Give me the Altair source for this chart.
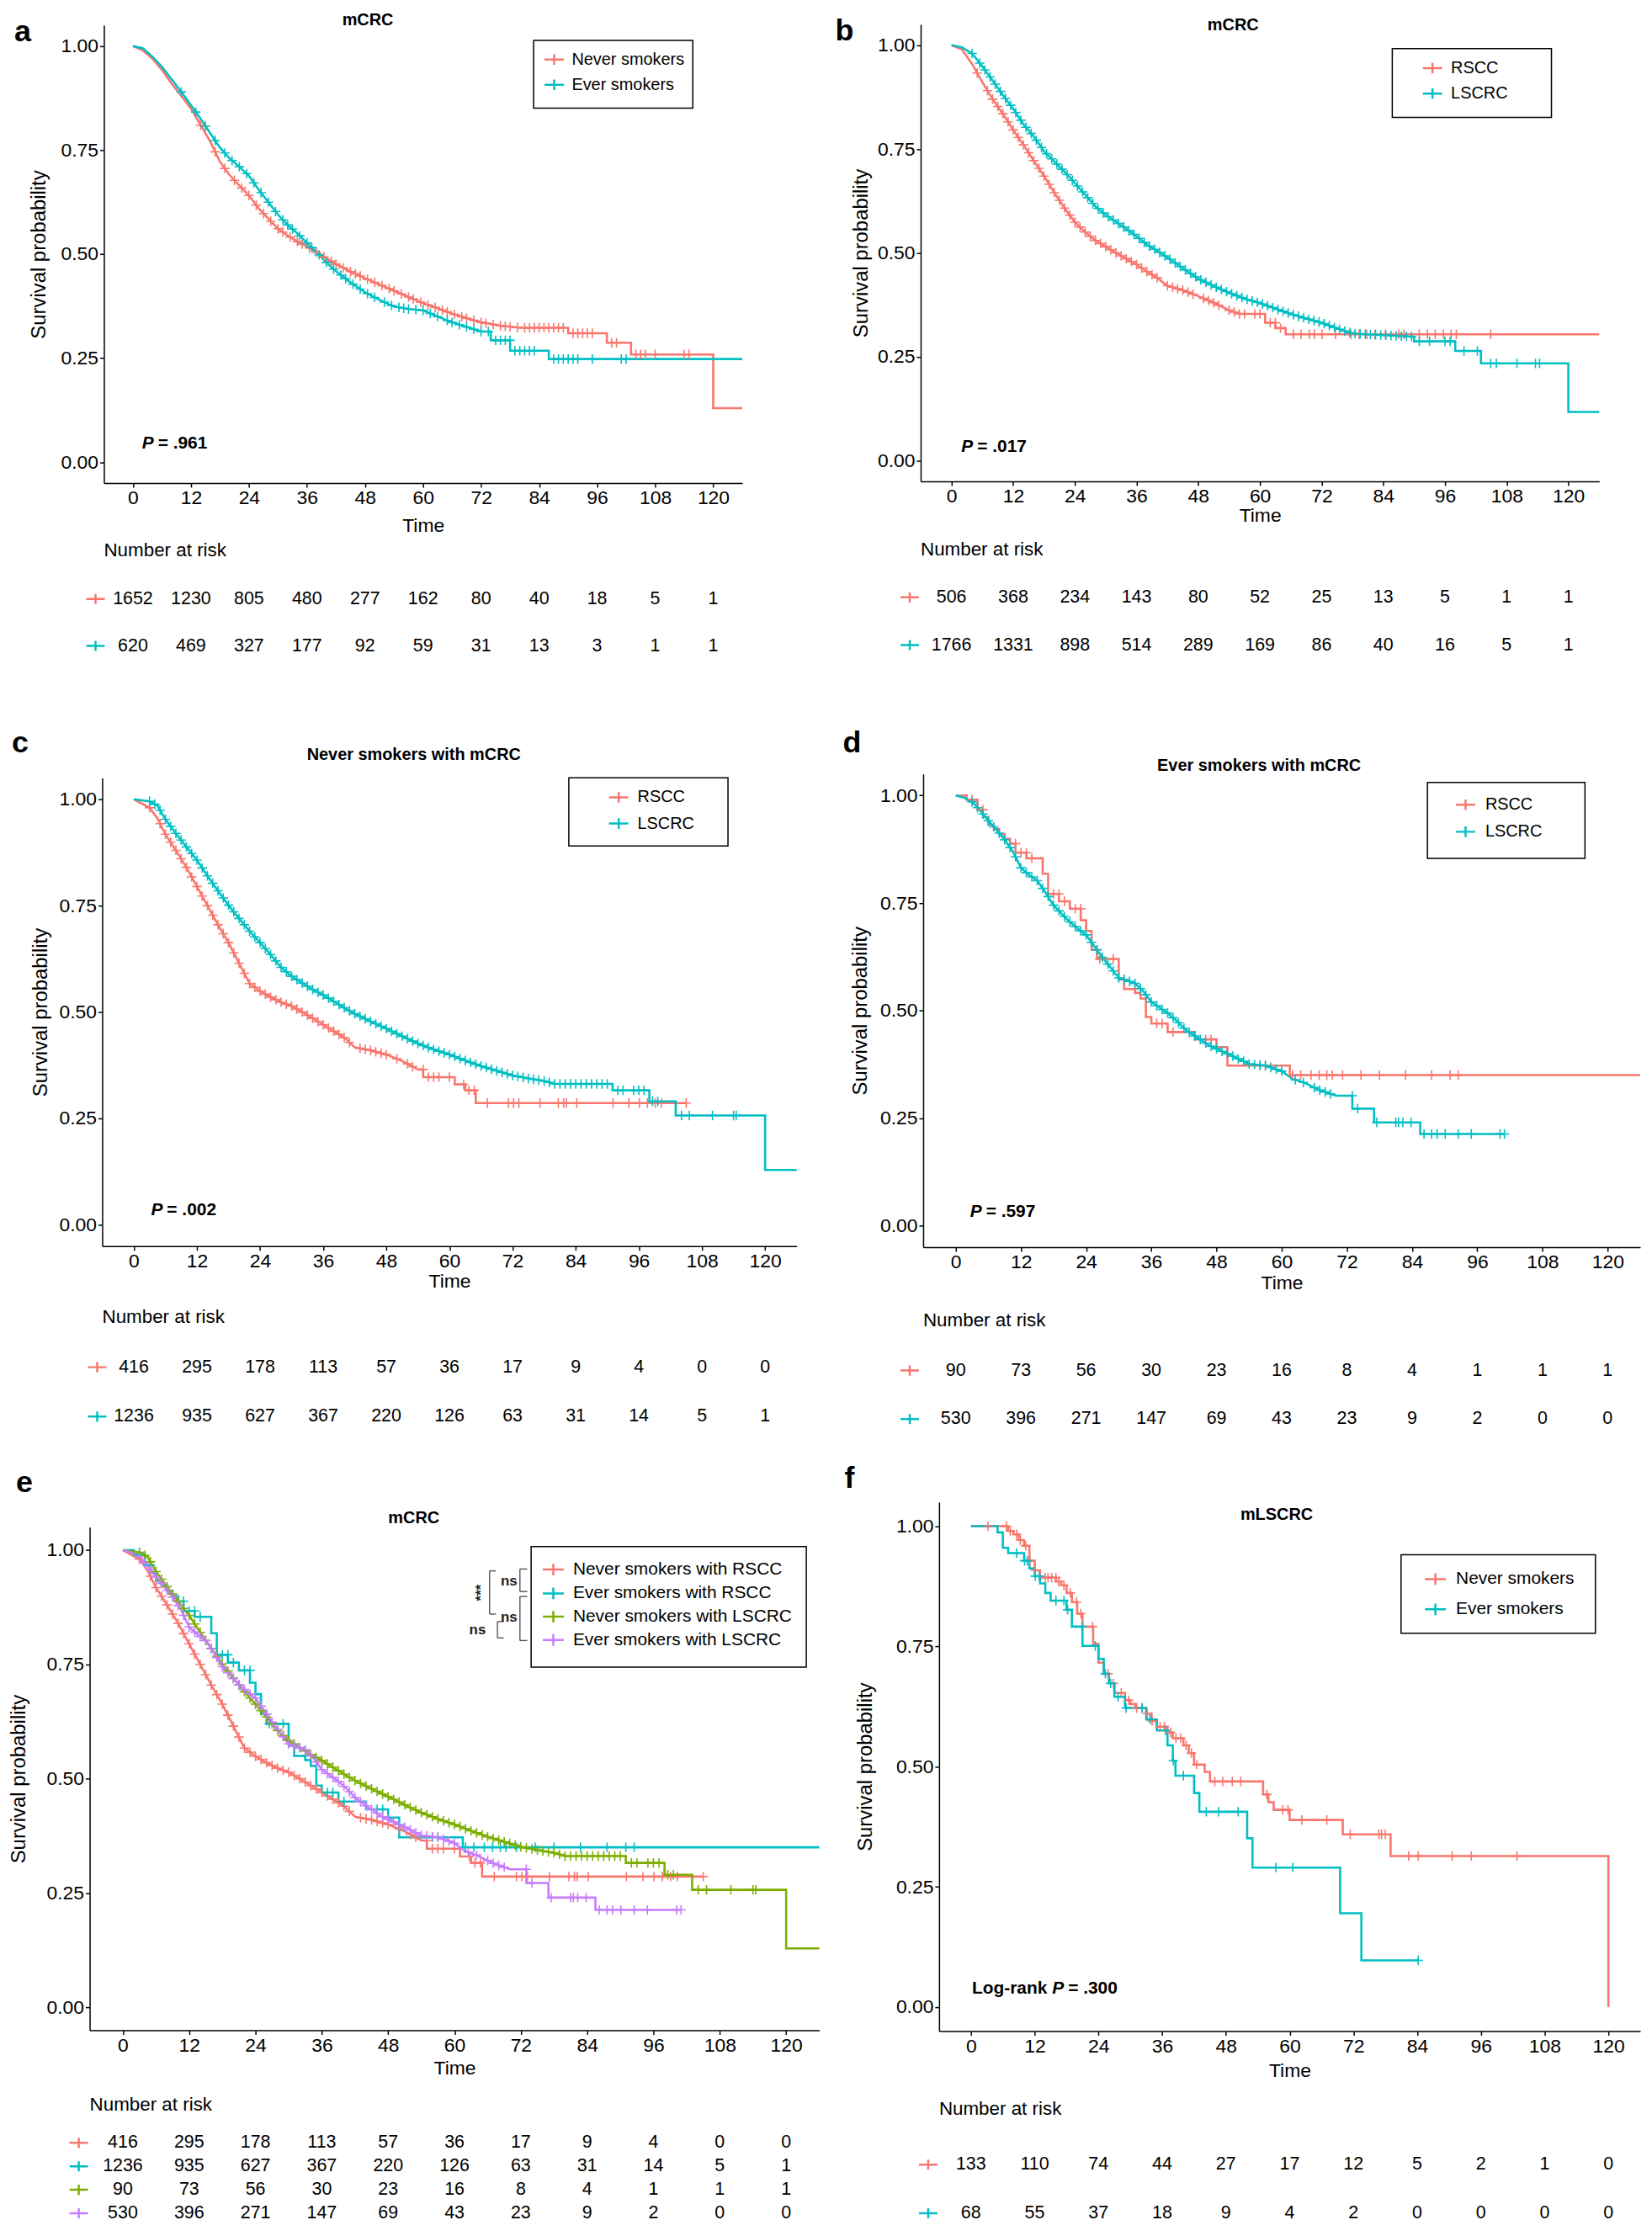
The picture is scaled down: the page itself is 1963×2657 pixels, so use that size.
import altair as alt
import pandas as pd

RED, TEAL, GREEN, PURPLE = "#F8766D", "#00BFC4", "#7CAE00", "#C77CFF"
FONT = "Liberation Sans, Arial, Helvetica, sans-serif"
TIME_TICKS = [0, 12, 24, 36, 48, 60, 72, 84, 96, 108, 120]
SURV_TICKS = [0.0, 0.25, 0.5, 0.75, 1.0]

# ------------------------------------------------------------------ data
# polyline vertices (time in months, survival probability)
A_NEVER_T = [0,2,4,6,8,10,12,14,16,18,20,22,24,26,28,30,32,34,36,39,42,45,48,51,54,57,60,63,66,69,72,76,80,90,90,98,98,103,103,120,120,126]
A_NEVER_S = [1,.99,.97,.943,.91,.88,.85,.81,.77,.722,.69,.665,.641,.61,.585,.561,.545,.53,.518,.497,.476,.458,.442,.427,.412,.397,.382,.37,.357,.346,.336,.328,.323,.323,.31,.31,.287,.287,.259,.259,.13,.13]
A_NEVER_C = [14,17,19,21,22.5,24,25.5,27,28.5,30,31,32.5,34,35,36.5,38,39.5,41,42,43.5,45,46,47,48.5,50,51.5,53,54,55.5,57,58,59.5,61,62.5,64,65,66.5,68,69,70.5,72,73,74.5,76,77,78,79.5,81,82,83,84,85,86,87,88,89,91,92,93,94,95,99,100,104,105,106,108,114,115]

A_EVER_T = [0,2,4,6,8,10,12,14,16,18,20,22,24,26,28,30,32,34,36,38,40,42,45,48,51,54,57,60,63,66,69,72,74,74,78,78,86,86,126]
A_EVER_S = [1,.995,.975,.95,.92,.89,.858,.825,.79,.756,.73,.71,.688,.655,.625,.595,.57,.55,.527,.505,.48,.459,.432,.408,.39,.374,.368,.365,.35,.336,.325,.314,.314,.293,.293,.268,.268,.248,.248]
A_EVER_C = [10,13,15,17,19,20.5,22,23.5,25,26.5,28,29.5,31,32,33,34.5,36,37,38.5,40,41.5,43,44,45.5,47,48.5,50,52,53.5,55,56,57,58.5,60,61.5,63,65,66,67.5,69,70.5,72,73.5,75,76,77,78,79,80,81,82,83,87,88,89,90,91,92,95,101,102]

B_RSCC_T = [0,2,4,6,8,10,12,14,16,18,20,22,24,26,28,30,32,34,36,38,40,42,45,48,51,54,56,61,61,63,63,65,65,126]
B_RSCC_S = [1,.99,.955,.911,.87,.835,.796,.76,.722,.685,.645,.608,.574,.55,.53,.515,.5,.486,.472,.455,.44,.421,.41,.396,.38,.362,.353,.353,.332,.332,.319,.319,.304,.304]
B_RSCC_C = [5,7,8,9,10,11,12,13,14,15,16,17,18,19,20,21,22,23,24,25,26,27,28,29,30,31,32,33,34,35,36,37,38,39,40,42,43,44,45,46,47,49,50,51,52,54,55,56,57,59,60,62,63,64,66.5,68,69.6,70.6,72.1,74.7,77.7,79.3,80.8,82.4,84.4,87,88,91,92.6,94.1,95.7,97.2,98.2,104.9]

B_LSCRC_T = [0,2,4,6,8,10,12,14,16,18,20,22,24,26,28,30,32,34,36,38,40,42,45,48,51,54,57,60,63,66,69,72,75,78,84,90,90,98,98,103,103,120,120,126]
B_LSCRC_S = [1,.995,.98,.949,.915,.88,.847,.81,.78,.745,.72,.695,.668,.64,.612,.591,.575,.558,.54,.52,.505,.489,.463,.438,.42,.404,.39,.379,.366,.353,.342,.332,.318,.306,.302,.298,.287,.287,.264,.264,.234,.234,.117,.117]
B_LSCRC_C = [4,5.5,6.5,7.5,8.5,9.5,10.5,11.5,12.5,13.5,14.5,15.5,16.5,17.5,18.5,19.5,20.5,21.5,22.5,23.5,24.5,25.5,26.5,27.5,28.5,29.5,30.5,31.5,32.5,33.5,34.5,35.5,36.5,37.5,38.5,39.5,40.5,41.5,42.5,43.5,44.5,45.5,46.5,47.5,48.5,49.5,50.5,51.5,52.5,53.5,54.5,55.5,56.5,57.5,58.5,59.5,60.5,61.5,62.5,63.5,64.5,65.5,66.5,67.5,68.5,69.5,70.5,71.5,72.5,73.5,74.5,75.5,76.5,77.5,78.5,79.5,80.5,81.5,82.5,83.5,84.5,85.5,86.5,87.5,88.5,89.5,91,93,96,97,99.7,102.3,104.9,106,110,113.6,114.4]

C_RSCC_T = [0,3,4.5,6,8,10,12,14,16,18,20,22,24,26,28,30,32,34,36,38,40,42,45,48,51,54,55,55,61,61,63,63,65,65,105]
C_RSCC_S = [1,.98,.955,.918,.88,.84,.795,.75,.705,.663,.615,.567,.549,.535,.523,.514,.5,.485,.47,.455,.44,.417,.41,.4,.385,.365,.365,.347,.347,.33,.33,.316,.316,.286,.286]
C_RSCC_C = [3,5,6,7,8,9,10,11,12,13,14,15,16,17,18,19,20,21,22,23,24,25,26,27,28,29,30,31,32,33,34,35,36,37,38,39,40,41,43,44,45,46,47,48,50,52,53,55,56,57,58,60,62.7,63.7,64.7,67.2,71.2,72.2,73.2,77.2,80.7,81.7,82.2,84.2,91.1,94.1,96.1,97.6,99.1,100.3,105]

C_LSCRC_T = [0,3,4.5,6,8,10,12,14,16,18,20,22,24,26,28,30,32,34,36,38,40,42,45,48,51,54,57,60,63,66,69,72,75,78,80,91,91,98,98,103,103,120,120,126]
C_LSCRC_S = [1,.995,.985,.953,.92,.888,.857,.82,.785,.751,.72,.69,.663,.635,.605,.584,.568,.553,.54,.525,.51,.496,.478,.461,.443,.426,.412,.4,.386,.373,.362,.351,.344,.338,.331,.331,.316,.316,.29,.29,.257,.257,.129,.129]
C_LSCRC_C = [3,4,5,6,7,8,9,10,11,12,13,14,15,16,17,18,19,20,21,22,23,24,25,26,27,28,29,30,31,32,33,34,35,36,37,38,39,40,41,42,43,44,45,46,47,48,49,50,51,52,53,54,55,56,57,58,59,60,61,62,63,64,65,66,67,68,69,70,71,72,73,74,75,76,77,78,79,80,81,82,83,84,85,86,87,88,89,90,92,93,95,96,97,98.6,99.6,104.1,105.6,110,114,114.5]

# step curves: drop times and survival after each drop
D_RSCC_DROP_T = [2,4,5,6,7,8,9,10,11,13,16,17,19,21,23,24,25,26,30,31,33,34,35,36,39,44,48,50,61.5]
D_RSCC_DROP_S = [.99,.967,.95,.932,.922,.91,.899,.888,.867,.854,.818,.771,.754,.737,.71,.685,.641,.62,.572,.55,.541,.528,.485,.47,.45,.433,.415,.372,.35]
D_RSCC_END = 126
D_RSCC_C = [3,5,11,12,13,14,18,19,20,22,23,26,26.5,29,31,33,37,38,40,46,47,56,57,62,63.5,65.4,66.9,68.3,69.3,71.2,74.6,78,82.8,87.6,91,92.5]

D_LSCRC_T = [0,1.5,3,4.5,6,7.5,9,10.5,12,13.5,15,16.5,18,19.5,21,22.5,24,25.5,27,28.5,30,31.5,33,34.5,36,37.5,39,40.5,42,43.5,45,46.5,48,51,54,57,60,62,64,67,70,73,73,77,77,85.5,85.5,101]
D_LSCRC_S = [1,.995,.985,.965,.941,.92,.897,.87,.832,.815,.802,.775,.745,.725,.706,.69,.676,.65,.624,.6,.576,.57,.563,.545,.52,.507,.494,.478,.459,.445,.433,.42,.411,.394,.376,.372,.359,.341,.333,.315,.302,.302,.272,.272,.24,.24,.213,.213]
D_LSCRC_C = [3,4,5,6,7,8,9,10,11,12,13,14,15,16,17,18,19,20,21,22,23,24,25,26,27,28,29,30,31,32,33,34,35,36,37,38,39,40,41,42,43,44,45,46,47,48,49,50,51,52,53,54,55,56,57,58,59,60,62.5,64,66,67,68,69,73,74,77.5,81,81.5,82.3,83.8,86.2,87.6,88.6,90.1,92.5,94.9,100.2,101]

F_NEVER_DROP_T = [7,8,9,10,11,12,13,16,17,18,19,20,21,23,24,25,26,27,29,30,31,33,34,35,37,38,40,41,42,44,45,55,56,57,60,70,79,120]
F_NEVER_DROP_S = [.99,.983,.971,.959,.928,.908,.893,.885,.877,.861,.842,.818,.791,.755,.716,.693,.673,.653,.638,.63,.622,.61,.595,.583,.571,.559,.544,.528,.504,.489,.469,.442,.426,.41,.389,.359,.314,0.0]
F_NEVER_END = 120
F_NEVER_C = [3.2,6.7,7.4,8.6,9.3,10.3,11.1,12.1,14.0,14.5,15.2,16.0,16.5,17.5,18.7,19.9,20.7,22.9,25.8,26.8,28.3,29.7,31.2,32.2,33.2,34.1,35.6,36.4,37.6,38.6,39.5,40.5,41.5,42.5,45.9,47.4,49.2,50.8,55.7,58.7,59.7,62.3,67.0,71.4,76.8,77.3,78.0,82.4,84.2,90.6,94.2,102.8]

F_EVER_DROP_T = [5,6,7,10,11,12,13,14,15,18,19,21,24,25,26,27,29,33,35,37,38,38.5,42,43,52,53,69.5,73.5]
F_EVER_DROP_S = [.987,.955,.944,.928,.912,.896,.881,.861,.845,.826,.791,.751,.724,.693,.673,.645,.622,.598,.575,.544,.512,.481,.445,.406,.351,.29,.195,.097]
F_EVER_END = 84.2
F_EVER_C = [8.6,10.1,10.6,12.1,12.9,16,17.5,18.2,20.9,23.4,25.3,26.3,27.7,29.2,32.2,33.7,36.6,38.1,40,44.3,46.6,50.3,57.4,60.6,84.2]

# numbers at risk at 0, 12, ..., 120 months
RISK_A = [[1652,1230,805,480,277,162,80,40,18,5,1], [620,469,327,177,92,59,31,13,3,1,1]]
RISK_B = [[506,368,234,143,80,52,25,13,5,1,1], [1766,1331,898,514,289,169,86,40,16,5,1]]
RISK_C = [[416,295,178,113,57,36,17,9,4,0,0], [1236,935,627,367,220,126,63,31,14,5,1]]
RISK_D = [[90,73,56,30,23,16,8,4,1,1,1], [530,396,271,147,69,43,23,9,2,0,0]]
RISK_E = [[416,295,178,113,57,36,17,9,4,0,0], [1236,935,627,367,220,126,63,31,14,5,1],
          [90,73,56,30,23,16,8,4,1,1,1], [530,396,271,147,69,43,23,9,2,0,0]]
RISK_F = [[133,110,74,44,27,17,12,5,2,1,0], [68,55,37,18,9,4,2,0,0,0,0]]

NAMES_SMOKE = ["Never smokers", "Ever smokers"]
NAMES_SIDE = ["RSCC", "LSCRC"]
NAMES_E = ["Never smokers with RSCC", "Ever smokers with RSCC",
           "Never smokers with LSCRC", "Ever smokers with LSCRC"]


def steps(drop_t, drop_s, end_t):
    T, S, cur = [0.0], [1.0], 1.0
    for t, s in zip(drop_t, drop_s):
        T += [t, t]
        S += [cur, s]
        cur = s
    if end_t > T[-1]:
        T.append(end_t)
        S.append(cur)
    return T, S


def curve_value(T, S, t):
    for i in range(len(T) - 1):
        if T[i] <= t <= T[i + 1] and T[i + 1] > T[i]:
            f = (t - T[i]) / (T[i + 1] - T[i])
            return S[i] + f * (S[i + 1] - S[i])
    return S[-1]


D_RSCC_T, D_RSCC_S = steps(D_RSCC_DROP_T, D_RSCC_DROP_S, D_RSCC_END)
F_NEVER_T, F_NEVER_S = steps(F_NEVER_DROP_T, F_NEVER_DROP_S, F_NEVER_END)
F_EVER_T, F_EVER_S = steps(F_EVER_DROP_T, F_EVER_DROP_S, F_EVER_END)

CUR_A = [(A_NEVER_T, A_NEVER_S, A_NEVER_C), (A_EVER_T, A_EVER_S, A_EVER_C)]
CUR_B = [(B_RSCC_T, B_RSCC_S, B_RSCC_C), (B_LSCRC_T, B_LSCRC_S, B_LSCRC_C)]
CUR_C = [(C_RSCC_T, C_RSCC_S, C_RSCC_C), (C_LSCRC_T, C_LSCRC_S, C_LSCRC_C)]
CUR_D = [(D_RSCC_T, D_RSCC_S, D_RSCC_C), (D_LSCRC_T, D_LSCRC_S, D_LSCRC_C)]
CUR_E = [CUR_C[0], CUR_D[0], CUR_C[1], CUR_D[1]]
CUR_F = [(F_NEVER_T, F_NEVER_S, F_NEVER_C), (F_EVER_T, F_EVER_S, F_EVER_C)]

# ------------------------------------------------------------------ layout (page pixels)
PLUS = "M-1,0L1,0M0,-1L0,1"
KEY = "M-1,0L1,0M0,-0.55L0,0.55"
LEFT_ORIGIN = 107   # left-column panels share one group origin

LAY = {
    "a": dict(origin=LEFT_ORIGIN, left=124, right=886, top=24.0, axis=570.5, atop=8, abot=830, aleft=8,
              title=("mCRC", 439, 18), letter=("a", 27, 32),
              box=(637, 42, 827, 123), sym=661.5, txt=682.5, rows=[65, 95], fs=20, sw=23,
              p=(4.3, 0.044, "= .961", None), nar=651, risk=[709, 765], key=114, ytp=13.5, xtp=10),
    "b": dict(left=1093, right=1903, top=23.0, axis=568.5, atop=8, abot=830, aleft=988,
              title=("mCRC", 1466, 24), letter=("b", 1002, 31),
              box=(1656, 52, 1846, 134), sym=1704, txt=1726, rows=[75.3, 105.6], fs=20, sw=23,
              p=(4.2, 0.034, "= .017", None), nar=650, risk=[707, 764], key=1080, ytp=7.2, xtp=0),
    "c": dict(origin=LEFT_ORIGIN, left=122, right=951, top=922.6, axis=1481.4, atop=830, abot=1725, aleft=8,
              title=("Never smokers with mCRC", 494, 895), letter=("c", 24, 881),
              box=(679, 922.5, 869, 1003.7), sym=738.5, txt=761, rows=[945.7, 977], fs=20, sw=23,
              p=(5.5, 0.035, "= .002", None), nar=1566, risk=[1626, 1685], key=116, ytp=9.2, xtp=0.6),
    "d": dict(left=1096, right=1952, top=917.8, axis=1482.7, atop=830, abot=1725, aleft=997,
              title=("Ever smokers with mCRC", 1497, 908), letter=("d", 1011, 881),
              box=(1698, 928, 1886, 1018.5), sym=1743.5, txt=1767, rows=[954.6, 986.8], fs=20, sw=23,
              p=(4.8, 0.033, "= .597", None), nar=1570, risk=[1630, 1688], key=1080, ytp=10.7, xtp=1.3),
    "e": dict(origin=LEFT_ORIGIN, left=107, right=978, top=1817, axis=2417.5, atop=1725, abot=2648, aleft=8,
              title=("mCRC", 494, 1806), letter=("e", 29, 1764),
              box=(634, 1840, 962.5, 1984), sym=660.5, txt=684, rows=[1867.6, 1896, 1923.8, 1951.5], fs=21, sw=25,
              p=None, nar=2506, risk=[2552, 2580, 2608, 2636], key=94, ytp=21, xtp=4.3),
    "f": dict(left=1115, right=1952, top=1787, axis=2418.5, atop=1725, abot=2648, aleft=999,
              title=("mLSCRC", 1518, 1802), letter=("f", 1008, 1759),
              box=(1666.5, 1850, 1898.5, 1943.5), sym=1707.5, txt=1732, rows=[1879, 1915], fs=21, sw=25,
              p=(17.5, 0.039, "= .300", "Log-rank"), nar=2511, risk=[2578, 2636], key=1102, ytp=24.2, xtp=6.5),
}

# pairwise-comparison brackets of panel e (data coordinates)
BR_X = [71.84, 71.84, 66.35, 67.77]
BR_TIP = [73.17, 73.17, 67.49, 68.91]
BR_TOP = [0.9586, 0.8985, 0.9545, 0.8435]
BR_BOT = [0.9093, 0.8022, 0.8600, 0.8079]
BR_LAB = ["ns", "ns", "***", "ns"]
BR_LX = [69.85, 69.85, 64.93, 64.17]
BR_LY = [0.9315, 0.8533, 0.9068, 0.8245]


def x_axis(tp):
    return alt.Axis(values=TIME_TICKS, title="Time", grid=False, domainColor="black", domainWidth=1.5,
                    tickColor="black", tickWidth=1.5, tickSize=5, labelPadding=2, labelFontSize=23,
                    labelFont=FONT, labelColor="black", titleFont=FONT, titleFontSize=23,
                    titleFontWeight="normal", titleColor="black", titlePadding=tp,
                    labelFlush=False, labelOverlap=False)


def y_axis(tp, off):
    return alt.Axis(values=SURV_TICKS, format=".2f", title="Survival probability", grid=False,
                    domainColor="black", domainWidth=1.5, tickColor="black", tickWidth=1.5, tickSize=5,
                    labelPadding=2, labelFontSize=23, labelFont=FONT, labelColor="black",
                    titleFont=FONT, titleFontSize=24, titleFontWeight="normal", titleColor="black",
                    titlePadding=tp, labelFlush=False, labelOverlap=False, offset=off)


def build(p, names, colors, curves, risk, brackets=False):
    O, A0 = p.get("origin", p["left"]), p["atop"]
    X = lambda v: v - O
    Y = lambda v: v - A0
    W = X(p["right"])
    H = p["axis"] - A0
    xs = alt.Scale(domain=[-6, 126], range=[X(p["left"]), W], nice=False, zero=False)
    ys = alt.Scale(domain=[-0.05, 1.05], range=[H, Y(p["top"])], nice=False, zero=False)
    cs = alt.Scale(domain=names, range=colors)
    xa, ya = x_axis(p["xtp"]), y_axis(p["ytp"], -X(p["left"]))
    one = pd.DataFrame({"k": [0]})

    def XE(f="t"):
        return alt.X(f + ":Q", scale=xs, axis=xa)

    def YE(f="s"):
        return alt.Y(f + ":Q", scale=ys, axis=ya)

    layers = [alt.Chart(one).mark_rect(opacity=0).encode(
        x=alt.value(X(p["aleft"])), x2=alt.value(W), y=alt.value(0), y2=alt.value(p["abot"] - A0))]

    lrows, crows = [], []
    for g, (T, S, C) in zip(names, curves):
        for i, (t, s) in enumerate(zip(T, S)):
            lrows.append({"t": t, "s": s, "g": g, "i": i})
        for c in C:
            crows.append({"t": c, "s": curve_value(T, S, c), "g": g})
    layers.append(alt.Chart(pd.DataFrame(lrows)).mark_line(strokeWidth=2.6, interpolate="linear").encode(
        x=XE(), y=YE(), color=alt.Color("g:N", scale=cs, legend=None), detail="g:N", order=alt.Order("i:Q")))
    layers.append(alt.Chart(pd.DataFrame(crows)).mark_point(
        shape=PLUS, size=130, strokeWidth=1.6, filled=False, opacity=1).encode(
        x=XE(), y=YE(), color=alt.Color("g:N", scale=cs, legend=None)))

    if p["p"] is not None:
        px, py, rest, prefix = p["p"]
        pdf = pd.DataFrame({"t": [px], "s": [py]})
        layers.append(alt.Chart(pdf).mark_text(text="P", font=FONT, fontSize=21, fontWeight="bold",
                                               fontStyle="italic", align="right", baseline="middle",
                                               color="black").encode(x=XE(), y=YE()))
        layers.append(alt.Chart(pdf).mark_text(text=rest, font=FONT, fontSize=21, fontWeight="bold",
                                               align="left", baseline="middle", dx=5,
                                               color="black").encode(x=XE(), y=YE()))
        if prefix:
            layers.append(alt.Chart(pdf).mark_text(text=prefix, font=FONT, fontSize=21, fontWeight="bold",
                                                   align="right", baseline="middle", dx=-20,
                                                   color="black").encode(x=XE(), y=YE()))

    if brackets:
        segs = []
        for x0, x1, y0, y1 in zip(BR_X, BR_TIP, BR_TOP, BR_BOT):
            segs += [{"t": x0, "s": y0, "t2": x0, "s2": y1},
                     {"t": x0, "s": y0, "t2": x1, "s2": y0},
                     {"t": x0, "s": y1, "t2": x1, "s2": y1}]
        layers.append(alt.Chart(pd.DataFrame(segs)).mark_rule(color="#555555", strokeWidth=1.4).encode(
            x=XE(), x2="t2:Q", y=YE(), y2="s2:Q"))
        lab = pd.DataFrame({"t": BR_LX, "s": BR_LY, "lab": BR_LAB})
        layers.append(alt.Chart(lab[lab["lab"] == "ns"]).mark_text(
            font=FONT, fontSize=17, fontWeight="bold", color="#222222", baseline="middle").encode(
            x=XE(), y=YE(), text="lab:N"))
        layers.append(alt.Chart(lab[lab["lab"] != "ns"]).mark_text(
            font=FONT, fontSize=17, fontWeight="bold", color="#222222", baseline="middle", angle=270).encode(
            x=XE(), y=YE(), text="lab:N"))

    # titles and panel letters
    tt, tx, ty = p["title"]
    layers.append(alt.Chart(one).mark_text(text=tt, font=FONT, fontSize=20, fontWeight="bold",
                                           align="center", baseline="middle", color="black").encode(
        x=alt.value(X(tx)), y=alt.value(Y(ty))))
    lt, lx, ly = p["letter"]
    layers.append(alt.Chart(one).mark_text(text=lt, font=FONT, fontSize=36, fontWeight="bold",
                                           align="center", baseline="middle", color="black").encode(
        x=alt.value(X(lx)), y=alt.value(Y(ly))))

    # legend box
    bx0, by0, bx1, by1 = p["box"]
    layers.append(alt.Chart(one).mark_rect(fill="white", stroke="black", strokeWidth=1.5).encode(
        x=alt.value(X(bx0)), x2=alt.value(X(bx1)), y=alt.value(Y(by0)), y2=alt.value(Y(by1))))
    for g, col, ry in zip(names, colors, p["rows"]):
        layers.append(alt.Chart(one).mark_point(shape=KEY, size=p["sw"] ** 2, strokeWidth=2.5,
                                                filled=False, opacity=1, color=col).encode(
            x=alt.value(X(p["sym"])), y=alt.value(Y(ry))))
        layers.append(alt.Chart(one).mark_text(text=g, font=FONT, fontSize=p["fs"], align="left",
                                               baseline="middle", color="black").encode(
            x=alt.value(X(p["txt"])), y=alt.value(Y(ry))))

    layers.append(alt.Chart(one).mark_text(text="Number at risk", font=FONT, fontSize=22.5, align="left",
                                           baseline="middle", color="black").encode(
        x=alt.value(X(p["left"])), y=alt.value(Y(p["nar"]))))

    # risk table
    n = len(risk)
    rs = alt.Scale(domain=[0, n - 1], range=[Y(p["risk"][0]), Y(p["risk"][-1])], nice=False, zero=False)
    rrows = [{"t": TIME_TICKS[j], "r": i, "n": str(v)} for i, row in enumerate(risk) for j, v in enumerate(row)]
    rtext = alt.Chart(pd.DataFrame(rrows)).mark_text(font=FONT, fontSize=21.5, color="black",
                                                     align="center", baseline="middle").encode(
        x=XE(), y=alt.Y("r:Q", scale=rs, axis=None), text="n:N")
    kdf = pd.DataFrame({"r": list(range(n)), "g": names[:n]})
    rkey = alt.Chart(kdf).mark_point(shape=KEY, size=484, strokeWidth=2.5, filled=False, opacity=1).encode(
        x=alt.value(X(p["key"])), y=alt.Y("r:Q", scale=rs, axis=None),
        color=alt.Color("g:N", scale=cs, legend=None))

    km = alt.layer(*layers)
    rk = alt.layer(rtext, rkey)
    return alt.layer(km, rk).resolve_scale(y="independent").properties(width=W, height=H)


pa = build(LAY["a"], NAMES_SMOKE, [RED, TEAL], CUR_A, RISK_A)
pb = build(LAY["b"], NAMES_SIDE, [RED, TEAL], CUR_B, RISK_B)
pc = build(LAY["c"], NAMES_SIDE, [RED, TEAL], CUR_C, RISK_C)
pd_ = build(LAY["d"], NAMES_SIDE, [RED, TEAL], CUR_D, RISK_D)
pe = build(LAY["e"], NAMES_E, [RED, TEAL, GREEN, PURPLE], CUR_E, RISK_E, brackets=True)
pf = build(LAY["f"], NAMES_SMOKE, [RED, TEAL], CUR_F, RISK_F)


def gap(l, r):
    return LAY[r]["aleft"] - LAY[l]["right"]


row1 = alt.hconcat(pa, pb, spacing=gap("a", "b")).resolve_scale(color="independent")
row2 = alt.hconcat(pc, pd_, spacing=gap("c", "d")).resolve_scale(color="independent")
row3 = alt.hconcat(pe, pf, spacing=gap("e", "f")).resolve_scale(color="independent")

chart = alt.vconcat(row1, row2, row3, spacing=0).resolve_scale(color="independent").properties(
    padding={"left": 0, "top": 0, "right": 0, "bottom": 0}
).configure_view(stroke=None)

chart.save("out.html", embed_options={"renderer": "svg", "actions": False})
